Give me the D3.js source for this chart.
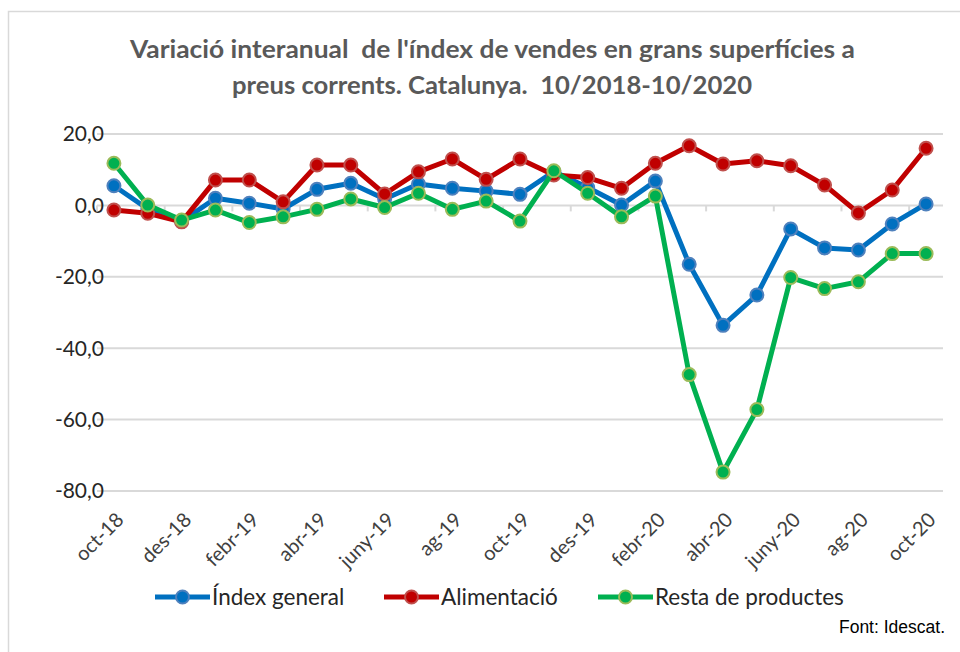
<!DOCTYPE html>
<html>
<head>
<meta charset="utf-8">
<script src="https://cdn.jsdelivr.net/npm/d3@7"></script>
<style>
  body { margin: 0; background: #fff; }
  text { font-family: Lato, "Open Sans", sans-serif; white-space: pre; }
</style>
</head>
<body>
<div id="chart"></div>
<script>
// data
var months = ["oct-18", "nov-18", "des-18", "gen-19", "febr-19", "març-19", "abr-19", "maig-19",
  "juny-19", "jul-19", "ag-19", "set-19", "oct-19", "nov-19", "des-19", "gen-20", "febr-20",
  "març-20", "abr-20", "maig-20", "juny-20", "jul-20", "ag-20", "set-20", "oct-20"];

var indexGeneral = [5.5, -1.0, -4.5, 2.0, 0.6, -1.0, 4.5, 6.2, 1.8, 6.0, 4.8, 4.0, 3.1, 9.5, 5.0,
  0.1, 6.8, -16.5, -33.6, -25.1, -6.6, -11.9, -12.5, -5.2, 0.4];
var alimentacio = [-1.3, -2.2, -4.6, 7.1, 7.1, 1.0, 11.3, 11.3, 3.2, 9.4, 13.0, 7.3, 13.0, 8.5, 7.8,
  4.8, 11.8, 16.7, 11.6, 12.5, 11.1, 5.7, -2.1, 4.3, 16.0];
var restaProductes = [11.8, 0.1, -4.1, -1.3, -4.8, -3.2, -1.1, 1.8, -0.6, 3.4, -1.1, 1.2, -4.4, 9.7, 3.4,
  -3.2, 2.6, -47.4, -74.7, -57.2, -20.2, -23.3, -21.4, -13.5, -13.5];

var yTicks = [20, 0, -20, -40, -60, -80];

var series = [
  { name: "Índex general", values: indexGeneral, color: "#0070C0", edge: "#4F81BD" },
  { name: "Alimentació", values: alimentacio, color: "#C00000", edge: "#C0504D" },
  { name: "Resta de productes", values: restaProductes, color: "#00B050", edge: "#9BBB59" }
];

var svgWidth = 960;
var svgHeight = 652;

var plot = { left: 97, right: 943, top: 134, bottom: 491 };

var svg = d3.select("#chart")
  .append("svg")
  .attr("width", svgWidth)
  .attr("height", svgHeight);

// chart area border
svg.append("rect")
  .attr("x", 8.5)
  .attr("y", 11.5)
  .attr("width", 970)
  .attr("height", 660)
  .attr("fill", "none")
  .attr("stroke", "#d9d9d9")
  .attr("stroke-width", 1.5);

// title (the original font is wider, so stretch to match)
var title = svg.append("g")
  .attr("fill", "#595959")
  .style("font-size", "24px")
  .style("font-weight", "bold");
title.append("text")
  .attr("x", 130).attr("y", 58)
  .attr("textLength", 725)
  .attr("lengthAdjust", "spacingAndGlyphs")
  .text("Variació interanual  de l'índex de vendes en grans superfícies a");
title.append("text")
  .attr("x", 232).attr("y", 94)
  .attr("textLength", 520)
  .attr("lengthAdjust", "spacingAndGlyphs")
  .text("preus corrents. Catalunya.  10/2018-10/2020");

var xScale = d3.scaleBand()
  .domain(months)
  .range([plot.left, plot.right]);

var yScale = d3.scaleLinear()
  .domain([-80, 20])
  .range([plot.bottom, plot.top]);

var xc = function(i) { return xScale(months[i]) + xScale.bandwidth() / 2; };

// gridlines
svg.append("g")
  .selectAll("line")
  .data(yTicks)
  .enter()
  .append("line")
  .attr("x1", plot.left)
  .attr("x2", plot.right)
  .attr("y1", d => yScale(d))
  .attr("y2", d => yScale(d))
  .attr("stroke", "#d9d9d9")
  .attr("stroke-width", 2);

// y axis labels
svg.append("g")
  .selectAll("text")
  .data(yTicks)
  .enter()
  .append("text")
  .attr("x", 104)
  .attr("y", d => yScale(d))
  .attr("dy", "0.35em")
  .attr("text-anchor", "end")
  .attr("fill", "#262626")
  .style("font-size", "21px")
  .text(d => d3.format(".1f")(d).replace(".", ",").replace("−", "-"));

// category axis ticks at y = 0, every two categories
var tickIdx = d3.range(0, months.length, 2);
svg.append("g")
  .selectAll("line")
  .data(tickIdx)
  .enter()
  .append("line")
  .attr("x1", i => xScale(months[i]))
  .attr("x2", i => xScale(months[i]))
  .attr("y1", yScale(0))
  .attr("y2", yScale(0) + 6)
  .attr("stroke", "#d9d9d9")
  .attr("stroke-width", 2);

// x labels (every second month), rotated
svg.append("g")
  .selectAll("text")
  .data(tickIdx)
  .enter()
  .append("text")
  .attr("transform", i => `translate(${xc(i) + 11}, ${plot.bottom + 30}) rotate(-45)`)
  .attr("text-anchor", "end")
  .attr("fill", "#404040")
  .style("font-size", "20px")
  .text(i => months[i]);

// lines
var line = d3.line()
  .x((d, i) => xc(i))
  .y(d => yScale(d));

series.forEach(function(s) {
  var g = svg.append("g");
  g.append("path")
    .datum(s.values)
    .attr("d", line)
    .attr("fill", "none")
    .attr("stroke", s.color)
    .attr("stroke-width", 5)
    .attr("stroke-linejoin", "round");
  g.selectAll("circle")
    .data(s.values)
    .enter()
    .append("circle")
    .attr("cx", (d, i) => xc(i))
    .attr("cy", d => yScale(d))
    .attr("r", 6.5)
    .attr("fill", s.color)
    .attr("stroke", s.edge)
    .attr("stroke-width", 2);
});

// legend
var legendX = [155, 384, 598];
var legend = svg.append("g")
  .selectAll("g")
  .data(series)
  .enter()
  .append("g")
  .attr("transform", (d, i) => `translate(${legendX[i]}, 597)`);

legend.append("line")
  .attr("x1", 0)
  .attr("x2", 55)
  .attr("stroke", d => d.color)
  .attr("stroke-width", 5);
legend.append("circle")
  .attr("cx", 27.5)
  .attr("r", 6.5)
  .attr("fill", d => d.color)
  .attr("stroke", d => d.edge)
  .attr("stroke-width", 2);
legend.append("text")
  .attr("x", 57)
  .attr("dy", "0.35em")
  .attr("fill", "#262626")
  .style("font-size", "22.5px")
  .text(d => d.name);

// source
svg.append("text")
  .attr("x", 945)
  .attr("y", 633)
  .attr("text-anchor", "end")
  .attr("fill", "#000")
  .style("font-family", "'Liberation Sans', Arial, sans-serif")
  .style("font-size", "17.5px")
  .text("Font: Idescat.");
</script>
</body>
</html>
